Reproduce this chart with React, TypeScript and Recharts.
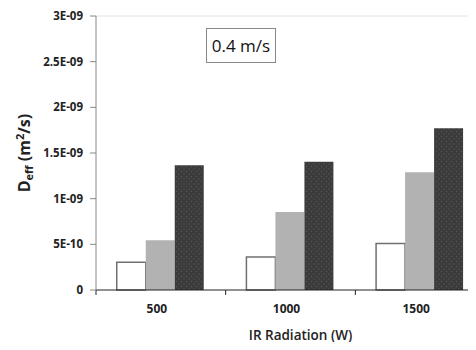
import React from "react";
import { BarChart, Bar, XAxis, YAxis, ReferenceLine } from "recharts";

// IR power levels (W)
const categories = ["500", "1000", "1500"];
// effective diffusivity for the three series (m2/s)
const seriesA = [3.05e-10, 3.6e-10, 5.1e-10];
const seriesB = [5.45e-10, 8.55e-10, 1.29e-9];
const seriesC = [1.365e-9, 1.405e-9, 1.77e-9];

const yTicks = [0, 5e-10, 1e-9, 1.5e-9, 2e-9, 2.5e-9, 3e-9];
const yTickLabels = ["0", "5E-10", "1E-09", "1.5E-09", "2E-09", "2.5E-09", "3E-09"];

const data = categories.map((name, i) => ({
  name,
  a: seriesA[i],
  b: seriesB[i],
  c: seriesC[i],
}));

const font = "'Open Sans', 'DejaVu Sans', sans-serif";

const W = 501;
const H = 350;
const margin = { top: 16, right: 16, left: 0, bottom: 30 };
const Y_AXIS_W = 96;
const X_AXIS_H = 30;
const axisX = margin.left + Y_AXIS_W;
const axisY = H - margin.bottom - X_AXIS_H;

// category axis: tick marks sit on the band edges, labels in the middle
const XTick = (props: any) => {
  const { x, payload } = props;
  const half = payload && payload.offset ? payload.offset : 0;
  return (
    <g>
      <line x1={x - half} x2={x - half} y1={axisY} y2={axisY + 5} stroke="#222" strokeWidth={1} />
      <text
        x={x - 4}
        y={axisY + 23}
        textAnchor="middle"
        fontFamily={font}
        fontWeight={700}
        fontSize={12}
        fill="#222"
      >
        {payload.value}
      </text>
    </g>
  );
};

const YTick = (props: any) => {
  const { y, payload } = props;
  const i = yTicks.indexOf(payload.value);
  return (
    <g>
      <line x1={axisX - 6} x2={axisX} y1={y} y2={y} stroke="#888" strokeWidth={1} />
      <text
        x={axisX - 13}
        y={y}
        dy="0.36em"
        textAnchor="end"
        fontFamily={font}
        fontWeight={700}
        fontSize={11.5}
        fill="#222"
      >
        {i >= 0 ? yTickLabels[i] : String(payload.value)}
      </text>
    </g>
  );
};

const YLabel = () => {
  const cx = 30;
  const cy = margin.top + (axisY - margin.top) / 2;
  return (
    <text
      x={cx}
      y={cy}
      transform={`rotate(-90, ${cx}, ${cy})`}
      textAnchor="middle"
      fontFamily={font}
      fontWeight={700}
      fontSize={16}
      fill="#222"
    >
      D
      <tspan fontSize={11} dy={3}>eff</tspan>
      <tspan dy={-3}> (m</tspan>
      <tspan fontSize={11} dy={-6}>2</tspan>
      <tspan dy={6}>/s)</tspan>
    </text>
  );
};

export default function App() {
  return (
    <div style={{ position: "relative", margin: -8, width: 476, height: 350, overflow: "hidden", background: "#fff" }}>
      <BarChart
        width={W}
        height={H}
        data={data}
        margin={margin}
        barCategoryGap="16%"
        barGap={0}
      >
        <defs>
          <pattern id="dots" width="5" height="5" patternUnits="userSpaceOnUse">
            <rect width="5" height="5" fill="#3b3b3b" />
            <circle cx="1.5" cy="1.5" r="0.7" fill="#555" />
            <circle cx="4" cy="4" r="0.7" fill="#555" />
          </pattern>
        </defs>
        <ReferenceLine y={3e-9} stroke="#e2e2e2" strokeWidth={1} />
        <XAxis
          dataKey="name"
          height={X_AXIS_H}
          stroke="#222"
          tickLine={false}
          tickSize={0}
          tickMargin={0}
          tick={<XTick />}
          label={{
            value: "IR Radiation (W)",
            position: "insideBottom",
            offset: -20,
            dx: 10,
            style: { fontFamily: font, fontWeight: 600, fontSize: 13.5, fill: "#222" },
          }}
        />
        <YAxis
          width={Y_AXIS_W}
          domain={[0, 3e-9]}
          ticks={yTicks}
          interval={0}
          stroke="#888"
          tickLine={false}
          tickSize={0}
          tickMargin={0}
          tick={<YTick />}
          label={{ content: <YLabel /> } as any}
        />
        <Bar dataKey="a" fill="#ffffff" stroke="#707070" strokeWidth={1.5} isAnimationActive={false} />
        <Bar dataKey="b" fill="#b2b2b2" isAnimationActive={false} />
        <Bar dataKey="c" fill="url(#dots)" isAnimationActive={false} />
      </BarChart>
      <div
        style={{
          position: "absolute",
          left: 206,
          top: 28,
          width: 68,
          height: 33,
          border: "1px solid #888",
          boxSizing: "content-box",
          fontFamily: font,
          fontSize: 17,
          fontWeight: 500,
          lineHeight: "33px",
          textAlign: "center",
          color: "#111",
        }}
      >
        0.4 m/s
      </div>
    </div>
  );
}
